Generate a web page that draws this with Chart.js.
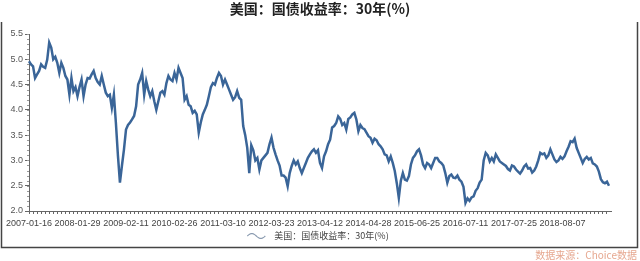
<!DOCTYPE html>
<html>
<head>
<meta charset="utf-8">
<script src="https://cdn.jsdelivr.net/npm/chart.js@4.4.1/dist/chart.umd.min.js"></script>
<style>
html,body{margin:0;padding:0;background:#fff;}
canvas{display:block;}
</style>
</head>
<body>
<canvas id="c" width="640" height="261"></canvas>
<script>
// data (two points per month)
const chartTitle = '美国：国债收益率：30年(%)';
const seriesName = '美国：国债收益率：30年(%)';
const sourceNote = '数据来源：Choice数据';
const tickDates = ['2007-01-16','2008-01-29','2009-02-11','2010-02-26','2011-03-10','2012-03-23',
  '2013-04-12','2014-04-28','2015-06-25','2016-07-11','2017-07-25','2018-08-07'];
const pointsPerLabel = 24;
const yTicks = [2.0, 2.5, 3.0, 3.5, 4.0, 4.5, 5.0, 5.5];
const yields = [
  4.96,4.90,4.86,4.63,4.70,4.77,4.90,4.85,4.83,4.99,5.33,5.23,5.00,5.05,4.93,4.73,4.93,4.83,4.67,4.60,4.30,4.63,4.37,4.45,
  4.27,4.45,4.60,4.27,4.50,4.63,4.62,4.70,4.77,4.63,4.55,4.50,4.67,4.50,4.34,4.27,4.30,4.04,4.30,3.74,3.10,2.56,2.90,3.22,
  3.61,3.70,3.75,3.81,3.88,4.07,4.50,4.60,4.73,4.30,4.57,4.40,4.27,4.37,4.17,4.00,4.17,4.34,4.37,4.30,4.53,4.67,4.60,4.57,
  4.73,4.60,4.83,4.73,4.63,4.20,4.27,4.10,4.07,3.94,3.98,3.91,3.55,3.75,3.91,4.00,4.10,4.27,4.45,4.53,4.50,4.63,4.73,4.67,
  4.50,4.60,4.50,4.40,4.30,4.20,4.25,4.37,4.24,4.20,3.68,3.50,3.25,2.75,3.30,3.20,3.00,3.05,2.82,3.00,3.05,3.10,3.15,3.32,
  3.45,3.25,3.12,3.00,2.90,2.70,2.70,2.66,2.49,2.75,2.89,3.00,2.92,2.98,2.85,2.75,2.85,2.95,3.05,3.12,3.18,3.22,3.15,3.20,
  2.95,2.85,3.08,3.18,3.32,3.41,3.65,3.68,3.74,3.87,3.82,3.70,3.74,3.61,3.82,3.85,3.91,3.94,3.81,3.58,3.70,3.64,3.62,3.55,
  3.48,3.45,3.35,3.43,3.40,3.32,3.28,3.22,3.12,3.10,2.98,3.08,2.95,2.79,2.55,2.26,2.60,2.75,2.62,2.60,2.69,2.92,3.05,3.10,
  3.18,3.22,3.10,2.92,2.85,2.95,2.92,2.85,2.95,3.05,3.05,2.98,2.95,2.90,2.75,2.56,2.69,2.72,2.66,2.65,2.70,2.62,2.58,2.48,
  2.16,2.25,2.20,2.27,2.29,2.40,2.45,2.56,2.62,3.00,3.15,3.10,2.98,3.05,2.98,3.12,3.05,2.98,2.95,2.92,2.89,2.83,2.80,2.90,
  2.88,2.82,2.78,2.74,2.80,2.88,2.92,2.84,2.85,2.76,2.80,2.88,3.00,3.15,3.12,3.14,3.05,3.10,3.22,3.12,3.02,2.97,3.00,3.07,
  3.03,3.08,3.18,3.27,3.38,3.36,3.43,3.25,3.15,3.05,2.95,3.03,3.07,3.02,3.05,2.94,2.92,2.88,2.78,2.63,2.57,2.55,2.58,2.50,
  2.16
];

const labels = yields.map((v, i) => i % pointsPerLabel === 0 ? tickDates[i / pointsPerLabel] : '');

const AXIS = '#666';
const LINE = '#3a6598';

const decor = {
  id: 'decor',
  afterDraw(chart) {
    const ctx = chart.ctx;
    const ys = chart.scales.y;
    ctx.save();
    // minor y ticks
    ctx.strokeStyle = '#999';
    ctx.lineWidth = 1;
    for (let v = 2.1; v < 5.5; v += 0.1) {
      const y = Math.round(ys.getPixelForValue(v)) + 0.5;
      ctx.beginPath(); ctx.moveTo(ys.right - 2, y); ctx.lineTo(ys.right, y); ctx.stroke();
    }
    // frame
    ctx.strokeStyle = '#444';
    ctx.lineWidth = 1.5;
    ctx.beginPath();
    ctx.moveTo(1.5, 22); ctx.lineTo(1.5, 247.5); ctx.lineTo(637.5, 247.5); ctx.lineTo(637.5, 22);
    ctx.stroke();
    // title
    ctx.fillStyle = '#222';
    ctx.font = 'bold 14px "Noto Sans CJK SC", sans-serif';
    ctx.textAlign = 'center';
    ctx.textBaseline = 'middle';
    ctx.fillText(chartTitle, 320, 9);
    // legend
    const ds = chart.data.datasets[0];
    ctx.font = '9px "Noto Sans CJK SC", sans-serif';
    const tw = ctx.measureText(ds.label).width;
    const lx = 318 - (tw + 27) / 2, ly = 236;
    ctx.strokeStyle = '#8a9bb0';
    ctx.lineWidth = 1.2;
    ctx.beginPath();
    for (let k = 0; k <= 18; k++) {
      const px = lx + k, py = ly + 2.5 * Math.sin(k / 18 * Math.PI * 2 - Math.PI);
      if (k === 0) ctx.moveTo(px, py); else ctx.lineTo(px, py);
    }
    ctx.stroke();
    ctx.fillStyle = '#444';
    ctx.textAlign = 'left';
    ctx.fillText(ds.label, lx + 27, ly);
    // source note
    ctx.fillStyle = '#e6a78f';
    ctx.font = '10px "Noto Sans CJK SC", sans-serif';
    ctx.textAlign = 'right';
    ctx.fillText(sourceNote, 637, 255);
    ctx.restore();
  }
};

new Chart(document.getElementById('c'), {
  type: 'line',
  data: {
    labels: labels,
    datasets: [{
      label: seriesName,
      data: yields,
      borderColor: LINE,
      borderWidth: 2.5,
      pointRadius: 0,
      tension: 0,
      fill: false
    }]
  },
  options: {
    responsive: false,
    animation: false,
    devicePixelRatio: 1,
    layout: { padding: { top: 34, right: 29, left: 0, bottom: 0 } },
    plugins: { legend: { display: false }, title: { display: false }, tooltip: { enabled: false } },
    scales: {
      x: {
        type: 'category',
        afterFit: s => { s.height = 50; },
        border: { display: true, color: AXIS, width: 1 },
        grid: {
          drawOnChartArea: false,
          tickLength: 3,
          tickColor: c => c.index % 2 === 0 ? AXIS : 'rgba(0,0,0,0)'
        },
        ticks: {
          autoSkip: false,
          maxRotation: 0,
          minRotation: 0,
          padding: 4,
          color: '#444',
          font: { family: '"Liberation Sans", Arial, sans-serif', size: 9 },
          callback: (v, i) => labels[i]
        }
      },
      y: {
        min: 2.0,
        max: 5.5,
        afterFit: s => { s.width = 29; },
        afterBuildTicks: s => { s.ticks = yTicks.map(v => ({ value: v })); },
        border: { display: true, color: AXIS, width: 1 },
        grid: { drawOnChartArea: false, tickLength: 4, color: AXIS },
        ticks: {
          padding: 2,
          color: '#555',
          font: { family: '"Liberation Sans", Arial, sans-serif', size: 9 },
          callback: v => v.toFixed(1)
        }
      }
    }
  },
  plugins: [decor]
});
</script>
</body>
</html>
